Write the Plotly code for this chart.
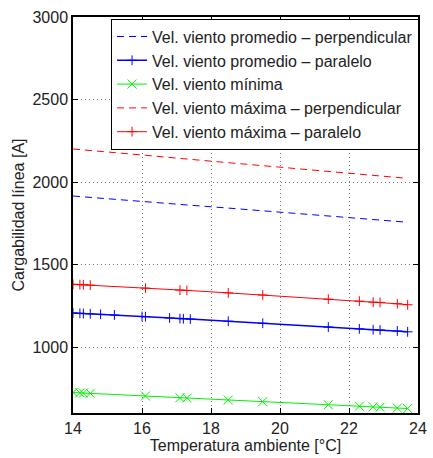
import plotly.graph_objects as go

# Ambient temperature samples [°C]
temp_a = [14.0, 14.2, 14.3, 14.5, 16.1, 17.1, 17.3, 18.5, 19.5, 21.4, 22.3, 22.7, 22.9, 23.4, 23.7]
temp_b = [14.0, 14.2, 14.3, 14.5, 14.8, 15.2, 16.0, 16.1, 16.8, 17.1, 17.2, 17.4,
          18.5, 19.5, 21.4, 22.3, 22.7, 22.9, 23.4, 23.7]

# Line ampacity [A]
prom_perp = [1915, 1912, 1910, 1907, 1881, 1864, 1861, 1842, 1825, 1795, 1780, 1773, 1770, 1762, 1756]
prom_par = [1206, 1204, 1203, 1201, 1198, 1194, 1185, 1184, 1176, 1172, 1171, 1169,
            1156, 1144, 1121, 1110, 1105, 1103, 1097, 1092]
minima = [724, 722, 721, 719, 703, 693, 691, 679, 669, 650, 641, 637, 635, 630, 627]
max_perp = [2200, 2196, 2194, 2191, 2162, 2143, 2139, 2117, 2099, 2064, 2048, 2040, 2037, 2028, 2022]
max_par = [1380, 1378, 1377, 1375, 1357, 1345, 1343, 1328, 1315, 1290, 1278, 1272, 1270, 1262, 1256]

names = [
    "Vel. viento promedio – perpendicular",
    "Vel. viento promedio – paralelo",
    "Vel. viento mínima",
    "Vel. viento máxima – perpendicular",
    "Vel. viento máxima – paralelo",
]

BLUE, GREEN, RED = "#0000ff", "#00f000", "#ff0000"

fig = go.Figure()
fig.add_trace(go.Scatter(x=temp_a, y=prom_perp, name=names[0], mode="lines",
                         line=dict(color=BLUE, width=1, dash="7px,5px")))
fig.add_trace(go.Scatter(x=temp_b, y=prom_par, name=names[1], mode="lines+markers",
                         line=dict(color=BLUE, width=1.5),
                         marker=dict(symbol="cross-thin", size=7,
                                     line=dict(color=BLUE, width=1))))
fig.add_trace(go.Scatter(x=temp_a, y=minima, name=names[2], mode="lines+markers",
                         line=dict(color=GREEN, width=1),
                         marker=dict(symbol="x-thin", size=9,
                                     line=dict(color=GREEN, width=1))))
fig.add_trace(go.Scatter(x=temp_a, y=max_perp, name=names[3], mode="lines",
                         line=dict(color=RED, width=1, dash="7px,5px")))
fig.add_trace(go.Scatter(x=temp_a, y=max_par, name=names[4], mode="lines+markers",
                         line=dict(color=RED, width=1),
                         marker=dict(symbol="cross-thin", size=7,
                                     line=dict(color=RED, width=1))))

FONT = "Liberation Sans, Arial, sans-serif"
axis_common = dict(
    showline=True, linecolor="black", linewidth=1.5, mirror="ticks",
    ticks="inside", ticklen=5, tickcolor="black", tickwidth=1,
    showgrid=True, gridcolor="#777777", griddash="1px,3px", gridwidth=1,
    zeroline=False, tickfont=dict(size=16, color="#222"),
    title_font=dict(size=16, color="#222"), ticklabeloverflow="allow",
)

fig.update_layout(
    width=433, height=458,
    margin=dict(l=73, r=6, t=17, b=45),
    paper_bgcolor="white", plot_bgcolor="white",
    font=dict(family=FONT, color="#222"),
    xaxis=dict(range=[14, 24], tickvals=[14, 16, 18, 20, 22, 24],
               title=dict(text="Temperatura ambiente [°C]", standoff=2),
               **axis_common),
    yaxis=dict(range=[600, 3000], tickvals=[1000, 1500, 2000, 2500, 3000],
               title=dict(text="Cargabilidad línea [A]", standoff=4), **axis_common),
    legend=dict(x=1.003, xanchor="right", y=0.996, yanchor="top",
                bgcolor="white", bordercolor="black", borderwidth=1,
                font=dict(size=16, color="#222"), tracegroupgap=0,
                itemwidth=30),
    showlegend=True,
)

fig.write_html("out.html")
